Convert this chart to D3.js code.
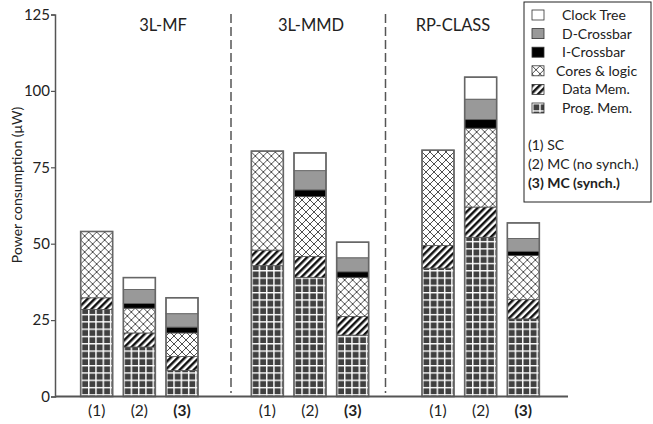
<!DOCTYPE html>
<html>
<head>
<meta charset="utf-8">
<script src="https://cdn.jsdelivr.net/npm/d3@7"></script>
<style>
  body { margin: 0; background: #fff; }
  svg { display: block; font-family: Lato, 'Open Sans', sans-serif; }
</style>
</head>
<body>
<div id="chart"></div>
<script>
const groups = ['3L-MF', '3L-MMD', 'RP-CLASS']
const configs = ['(1)', '(2)', '(3)']
const components = ['Prog. Mem.', 'Data Mem.', 'Cores & logic', 'I-Crossbar', 'D-Crossbar', 'Clock Tree']
const yTicks = [0, 25, 50, 75, 100, 125]

// one value per component (bottom to top), per group, per config
const progMem = [[28.5, 16.2, 8.5], [42.8, 39.0, 20.1], [42.0, 52.1, 25.4]]
const dataMem = [[3.8, 4.6, 4.6], [5.1, 6.8, 6.1], [7.4, 9.9, 6.3]]
const coresLogic = [[21.7, 8.1, 7.7], [32.4, 19.6, 12.8], [31.2, 25.8, 14.4]]
const iCrossbar = [[0, 1.5, 1.9], [0, 2.2, 1.8], [0, 2.8, 1.4]]
const dCrossbar = [[0, 4.6, 4.4], [0, 6.3, 4.6], [0, 6.7, 4.2]]
const clockTree = [[0, 3.9, 5.2], [0, 5.8, 5.1], [0, 7.2, 5.1]]
const seriesValues = [progMem, dataMem, coresLogic, iCrossbar, dCrossbar, clockTree]

const legendNotes = ['(1) SC', '(2) MC (no synch.)', '(3) MC (synch.)']

const width = 653, height = 424
const svg = d3.select('#chart').append('svg')
  .attr('width', width)
  .attr('height', height)

// Patterns for the component fills
const defs = svg.append('defs')

const grid = defs.append('pattern')
  .attr('id', 'p-prog')
  .attr('patternUnits', 'userSpaceOnUse')
  .attr('width', 7.3).attr('height', 7.3)
grid.append('rect').attr('width', 7.3).attr('height', 7.3).attr('fill', '#404040')
grid.append('path').attr('d', 'M0,0.7 H7.3 M0.7,0 V7.3')
  .attr('stroke', '#fff').attr('stroke-width', 1.5)

const stripes = defs.append('pattern')
  .attr('id', 'p-data')
  .attr('patternUnits', 'userSpaceOnUse')
  .attr('width', 5).attr('height', 5)
  .attr('patternTransform', 'rotate(45)')
stripes.append('rect').attr('width', 5).attr('height', 5).attr('fill', '#fff')
stripes.append('rect').attr('width', 2.5).attr('height', 5).attr('fill', '#111')

const cross = defs.append('pattern')
  .attr('id', 'p-cores')
  .attr('patternUnits', 'userSpaceOnUse')
  .attr('width', 8).attr('height', 8)
cross.append('rect').attr('width', 8).attr('height', 8).attr('fill', '#fff')
cross.append('path').attr('d', 'M0,0 L8,8 M8,0 L0,8')
  .attr('stroke', '#222').attr('stroke-width', 0.8)

const fills = ['url(#p-prog)', 'url(#p-data)', 'url(#p-cores)', '#000', '#999', '#fff']

// Scales
const y = d3.scaleLinear().domain([0, 125]).range([396.5, 14.5])
const xGroup = d3.scaleBand().domain(groups).range([54, 566])
  .paddingInner(0.25).paddingOuter(0.125)
const xConfig = d3.scaleBand().domain(configs).range([0, xGroup.bandwidth()])
  .paddingInner(0.25).paddingOuter(0.125)

// Y axis
svg.append('g')
  .attr('transform', 'translate(55,0)')
  .call(d3.axisLeft(y).tickValues(yTicks).tickSize(4).tickPadding(1))
  .call(g => g.select('.domain').attr('stroke', '#555').attr('stroke-width', 1.5))
  .call(g => g.selectAll('.tick line').attr('stroke', '#555').attr('stroke-width', 1.2))
  .call(g => g.selectAll('.tick text')
    .attr('font-size', '15px').attr('fill', '#222').attr('font-family', 'Lato, sans-serif'))

svg.append('text')
  .attr('transform', `translate(22,185) rotate(-90)`)
  .attr('text-anchor', 'middle')
  .attr('font-size', '14px')
  .attr('fill', '#222')
  .text('Power consumption (μW)')

// Dashed separators between groups
const separatorX = [231, 385.5]
svg.selectAll('.sep')
  .data(separatorX)
  .join('line')
  .attr('class', 'sep')
  .attr('x1', d => d).attr('x2', d => d)
  .attr('y1', 14).attr('y2', 393)
  .attr('stroke', '#555')
  .attr('stroke-width', 1.5)
  .attr('stroke-dasharray', '9,4')

// Stack data
const barData = []
groups.forEach((g, gi) => {
  configs.forEach((c, ci) => {
    let base = 0
    const segs = []
    components.forEach((comp, k) => {
      const v = seriesValues[k][gi][ci]
      segs.push({ comp, k, y0: base, y1: base + v, v })
      base += v
    })
    barData.push({ g, c, segs, total: base })
  })
})

const bars = svg.selectAll('.bar')
  .data(barData)
  .join('g')
  .attr('class', 'bar')
  .attr('transform', d => `translate(${xGroup(d.g) + xConfig(d.c)},0)`)

bars.selectAll('rect.seg')
  .data(d => d.segs.filter(s => s.v > 0))
  .join('rect')
  .attr('class', 'seg')
  .attr('x', 0)
  .attr('width', xConfig.bandwidth())
  .attr('y', d => y(d.y1))
  .attr('height', d => y(d.y0) - y(d.y1))
  .attr('fill', d => fills[d.k])
  .attr('stroke', '#555')
  .attr('stroke-width', 0.8)

bars.append('rect')
  .attr('x', 0)
  .attr('width', xConfig.bandwidth())
  .attr('y', d => y(d.total))
  .attr('height', d => y(0) - y(d.total))
  .attr('fill', 'none')
  .attr('stroke', '#666')
  .attr('stroke-width', 1.6)

// X axis baseline
svg.append('line')
  .attr('x1', 55).attr('x2', 568)
  .attr('y1', y(0)).attr('y2', y(0))
  .attr('stroke', '#555')
  .attr('stroke-width', 2)

// Config labels under bars
groups.forEach(g => {
  svg.selectAll(null)
    .data(configs)
    .join('text')
    .attr('x', c => xGroup(g) + xConfig(c) + xConfig.bandwidth() / 2)
    .attr('y', 416)
    .attr('text-anchor', 'middle')
    .attr('font-size', '15.5px')
    .attr('font-weight', (c, i) => i === 2 ? 'bold' : 'normal')
    .attr('fill', '#222')
    .text(c => c)
})

// Group titles
const titleX = [163, 311, 453]
svg.selectAll('.gtitle')
  .data(groups)
  .join('text')
  .attr('class', 'gtitle')
  .attr('x', (g, i) => titleX[i])
  .attr('y', 31)
  .attr('text-anchor', 'middle')
  .attr('font-size', '16.5px')
  .attr('fill', '#222')
  .text(g => g)

// Legend
const legend = svg.append('g').attr('transform', 'translate(524,2)')
legend.append('rect')
  .attr('width', 127).attr('height', 200)
  .attr('fill', '#fff')
  .attr('stroke', '#222')
  .attr('stroke-width', 1)

const legendOrder = components.slice().reverse()
legend.selectAll('.li')
  .data(legendOrder)
  .join('g')
  .attr('class', 'li')
  .attr('transform', (d, i) => `translate(8,${8 + i * 18.6})`)
  .call(g => g.append('rect')
    .attr('width', 12).attr('height', 10)
    .attr('fill', d => fills[components.indexOf(d)])
    .attr('stroke', '#333')
    .attr('stroke-width', 0.8))
  .call(g => g.append('text')
    .attr('x', d => d === 'Cores & logic' ? 24 : 30)
    .attr('y', 10)
    .attr('font-size', '14px')
    .attr('fill', '#222')
    .text(d => d))

legend.selectAll('.note')
  .data(legendNotes)
  .join('text')
  .attr('class', 'note')
  .attr('x', 4)
  .attr('y', (d, i) => 148 + i * 19)
  .attr('font-size', '14px')
  .attr('font-weight', (d, i) => i === 2 ? 'bold' : 'normal')
  .attr('fill', '#222')
  .text(d => d)
</script>
</body>
</html>
